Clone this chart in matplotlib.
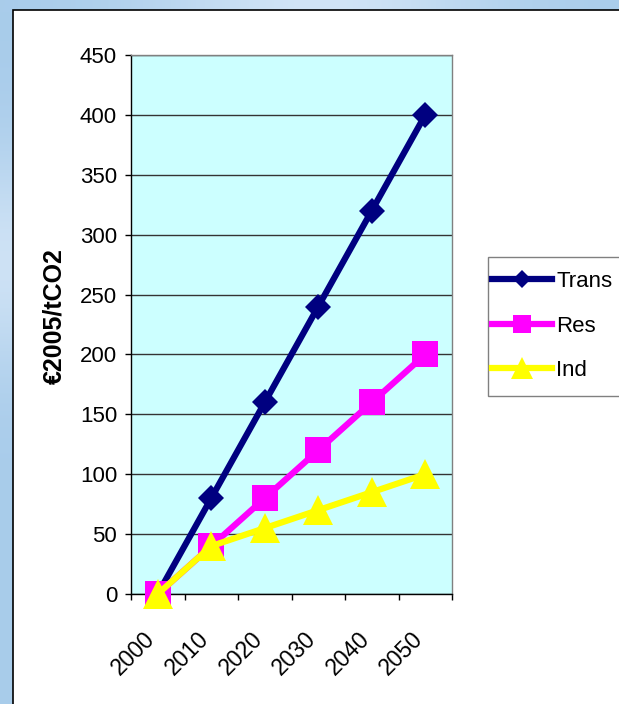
import numpy as np
import matplotlib
matplotlib.use("Agg")
import matplotlib.pyplot as plt
from matplotlib.patches import Rectangle
from matplotlib.transforms import ScaledTranslation

# Carbon value by sector, €2005 per tonne of CO2
years = ["2000", "2010", "2020", "2030", "2040", "2050"]
trans = [0, 80, 160, 240, 320, 400]
res = [0, 40, 80, 120, 160, 200]
ind = [0, 40, 55, 70, 85, 100]
series_names = ["Trans", "Res", "Ind"]
yticks = [0, 50, 100, 150, 200, 250, 300, 350, 400, 450]

plt.rcParams['font.family'] = ['Liberation Sans', 'DejaVu Sans']

W, H = 619, 704
fig = plt.figure(figsize=(W / 100, H / 100), dpi=100)

# light blue slide backdrop
bg = fig.add_axes([0, 0, 1, 1])
bg.axis('off')
yy, xx = np.mgrid[0:H, 0:W]
base = np.array([0.66, 0.80, 0.92])
haze = 0.55 * np.exp(-((xx - 320) / 170.0) ** 2) * (yy < 12) \
    + 0.5 * np.exp(-((yy - 260) / 110.0) ** 2) * (xx < 14)
haze = np.clip(haze, 0, 0.8)[..., None]
img = base * (1 - haze) + np.array([0.95, 0.97, 1.0]) * haze
bg.imshow(img, extent=[0, 1, 0, 1], aspect='auto', origin='upper')
bg.set_xlim(0, 1)
bg.set_ylim(0, 1)

# white chart panel
bg.add_patch(Rectangle((13 / W, -0.02), 1.05, 1 - 10 / H + 0.02,
                       facecolor='white', edgecolor='black', lw=1.2,
                       transform=bg.transAxes))

# legend box
bg.add_patch(Rectangle((488 / W, 1 - 396 / H), 0.3, (396 - 257) / H,
                       facecolor='white', edgecolor='#808080', lw=1,
                       transform=bg.transAxes))

ax = fig.add_axes([131 / W, 1 - 594 / H, (452 - 131) / W, (594 - 55) / H])
ax.set_facecolor('#CCFFFF')

x = np.arange(len(years)) + 0.5
l1, = ax.plot(x, trans, color='#000080', lw=4.5, marker='D', markersize=13.5,
              markeredgewidth=0, zorder=3, clip_on=False, label=series_names[0])
l2, = ax.plot(x, res, color='#FF00FF', lw=4.5, marker='s', markersize=19,
              markeredgewidth=0, zorder=4, clip_on=False, label=series_names[1])
l3, = ax.plot(x, ind, color='#FFFF00', lw=4.5, marker='^', markersize=22,
              markeredgewidth=0, zorder=5, clip_on=False, label=series_names[2])

ax.set_xlim(0, len(years))
ax.set_ylim(0, 450)
ax.set_yticks(yticks)
ax.yaxis.grid(True, color='#333333', lw=1)
ax.set_axisbelow(True)

for s in ('left', 'bottom'):
    ax.spines[s].set_color('black')
    ax.spines[s].set_linewidth(1)
for s in ('top', 'right'):
    ax.spines[s].set_color('#808080')
    ax.spines[s].set_linewidth(1)

ax.tick_params(axis='y', direction='out', length=4, width=1, pad=6,
               labelsize=16, colors='black')
ax.set_xticks(np.arange(len(years) + 1))
ax.set_xticklabels([])
ax.set_xticks(x, minor=True)
ax.set_xticklabels(years, minor=True)
ax.tick_params(axis='x', which='major', direction='out', length=4, width=1)
ax.tick_params(axis='x', which='minor', length=0, pad=30, labelsize=16.5)
shift = ScaledTranslation(-6 / 100, 0, fig.dpi_scale_trans)
for lab in ax.get_xticklabels(minor=True):
    lab.set_rotation(45)
    lab.set_ha('right')
    lab.set_va('center')
    lab.set_rotation_mode('anchor')
    lab.set_transform(lab.get_transform() + shift)

ax.text(-0.24, 0.516, '€2005/tCO2', transform=ax.transAxes, rotation=90,
        ha='center', va='center', fontsize=18, fontweight='bold')

fig.legend(handles=[l1, l2, l3], labels=series_names, loc='center left',
           bbox_to_anchor=(492 / W, 1 - 326 / H), frameon=False,
           fontsize=16, handlelength=2.7, handletextpad=0.2,
           labelspacing=1.05, borderpad=0, borderaxespad=0, markerscale=0.7)

fig.savefig('out.png', dpi=100)
